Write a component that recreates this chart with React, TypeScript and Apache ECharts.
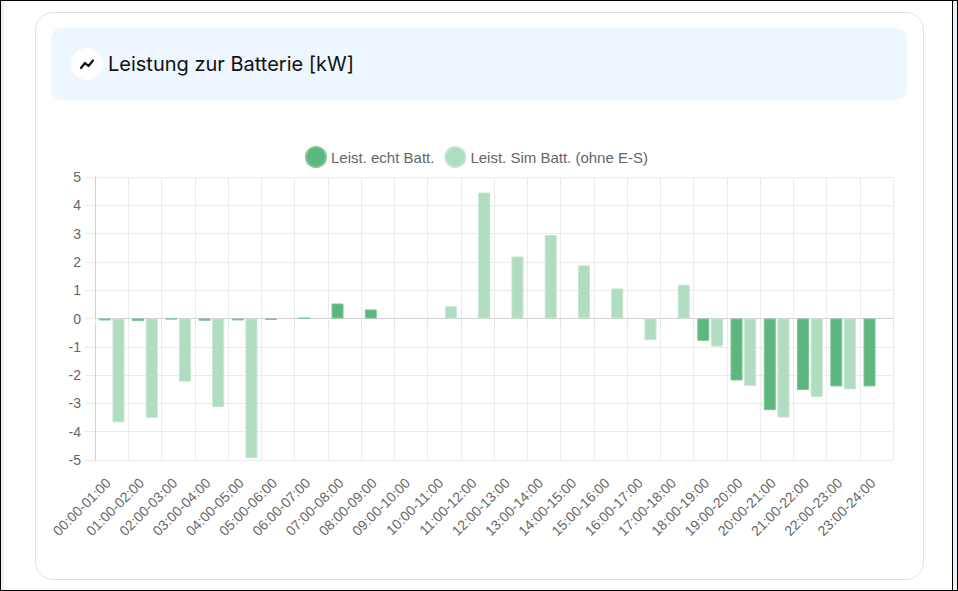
import * as echarts from "echarts";
import { useEffect, useRef } from "react";

const categories = [
    "00:00-01:00", "01:00-02:00", "02:00-03:00", "03:00-04:00", "04:00-05:00", "05:00-06:00",
    "06:00-07:00", "07:00-08:00", "08:00-09:00", "09:00-10:00", "10:00-11:00", "11:00-12:00",
    "12:00-13:00", "13:00-14:00", "14:00-15:00", "15:00-16:00", "16:00-17:00", "17:00-18:00",
    "18:00-19:00", "19:00-20:00", "20:00-21:00", "21:00-22:00", "22:00-23:00", "23:00-24:00",
];

const echtBatt = [
    -0.07, -0.09, -0.03, -0.08, -0.07, -0.05, 0.02, 0.53, 0.32, 0, 0, 0,
    0, 0, 0, 0, 0, 0, -0.79, -2.19, -3.24, -2.53, -2.4, -2.4,
];

const simBatt = [
    -3.67, -3.51, -2.23, -3.13, -4.93, 0, 0, 0, 0, 0, 0.43, 4.45,
    2.19, 2.95, 1.88, 1.06, -0.76, 1.19, -0.99, -2.38, -3.5, -2.77, -2.5, 0,
];

const seriesNames = ["Leist. echt Batt.", "Leist. Sim Batt. (ohne E-S)"];

const labelFont = '"Liberation Sans", Arial, sans-serif';

// zero values are not drawn at all (no outline line on the axis)
const noZero = (values: number[]) => values.map((v) => (v === 0 ? null : v));

const BatteryChart: React.FC = () => {
    const node = useRef<HTMLDivElement>(null);

    useEffect(() => {
        const chart = echarts.init(node.current, null, { renderer: "svg" });
        const option: echarts.EChartsOption = {
            animation: false,
            legend: {
                top: 11,
                left: 268,
                icon: "circle",
                itemWidth: 20,
                itemHeight: 20,
                itemGap: 10,
                textStyle: { fontSize: 15, color: "#666", fontFamily: labelFont },
                data: seriesNames,
            },
            grid: { left: 63, right: 15, top: 47, height: 283, outerBoundsMode: "none" } as any,
            xAxis: {
                type: "category",
                data: categories,
                axisLine: { lineStyle: { color: "#d0d0d0" } },
                axisTick: { show: true, length: 7, lineStyle: { color: "#e6e6e6" } },
                splitLine: { show: true, lineStyle: { color: "#ebebeb" } },
                axisLabel: {
                    interval: 0,
                    rotate: 45,
                    fontSize: 14,
                    color: "#666",
                    fontFamily: labelFont,
                    margin: 17,
                    padding: [0, 5, 0, 0],
                },
            },
            yAxis: {
                type: "value",
                min: -5,
                max: 5,
                interval: 1,
                axisLine: { show: true, lineStyle: { color: "#d0d0d0" } },
                axisTick: { show: true, length: 10, lineStyle: { color: "#ebebeb" } },
                splitLine: { lineStyle: { color: "#ebebeb" } },
                axisLabel: { fontSize: 14, color: "#666", fontFamily: labelFont, margin: 14 },
            },
            series: [
                {
                    name: seriesNames[0],
                    type: "bar",
                    data: noZero(echtBatt),
                    barWidth: 12,
                    barGap: "14%",
                    itemStyle: { color: "#5cb67e", borderColor: "#7cc597", borderWidth: 1 },
                },
                {
                    name: seriesNames[1],
                    type: "bar",
                    data: noZero(simBatt),
                    barWidth: 12,
                    barGap: "14%",
                    itemStyle: { color: "#b0dcc1", borderColor: "#c4e5d1", borderWidth: 1 },
                },
            ],
        };
        chart.setOption(option);
        return () => {
            chart.dispose();
        };
    }, []);

    return (
        <div
            ref={node}
            style={{ position: "absolute", left: 31, top: 129, width: 876, height: 440 }}
        ></div>
    );
};

const App: React.FC = () => {
    return (
        <div
            style={{
                position: "fixed",
                left: 0,
                top: 0,
                width: 958,
                height: 591,
                boxSizing: "border-box",
                border: "1px solid #000",
                background: "#fff",
                fontFamily: "Inter, sans-serif",
                overflow: "hidden",
            }}
        >
            {/* thin strips at the window edges */}
            <div style={{ position: "absolute", left: 0, top: 0, bottom: 0, width: 3, background: "#e9f1f9" }}></div>
            <div style={{ position: "absolute", left: 951, top: 0, bottom: 0, width: 1, background: "#000" }}></div>
            <div style={{ position: "absolute", left: 952, top: 0, bottom: 0, width: 4, background: "#e9f1f9" }}></div>

            {/* card */}
            <div
                style={{
                    position: "absolute",
                    left: 34,
                    top: 11,
                    width: 887,
                    height: 566,
                    border: "1px solid #e2e2e2",
                    borderRadius: 18,
                }}
            ></div>

            {/* header */}
            <div
                style={{
                    position: "absolute",
                    left: 50,
                    top: 27,
                    width: 856,
                    height: 72,
                    background: "#eef6ff",
                    borderRadius: 10,
                }}
            >
                <div
                    style={{
                        position: "absolute",
                        left: 20,
                        top: 20,
                        width: 32,
                        height: 32,
                        borderRadius: "50%",
                        background: "#fff",
                    }}
                >
                    <svg width="32" height="32" viewBox="0 0 32 32">
                        <polyline
                            points="10,20 14,15 17.5,18 22,12.5"
                            fill="none"
                            stroke="#111"
                            strokeWidth="2.2"
                            strokeLinecap="round"
                            strokeLinejoin="round"
                        />
                    </svg>
                </div>
                <div
                    style={{
                        position: "absolute",
                        left: 57,
                        top: 0,
                        height: 72,
                        lineHeight: "72px",
                        fontSize: 20,
                        color: "#111",
                    }}
                >
                    Leistung zur Batterie [kW]
                </div>
            </div>

            <BatteryChart />
        </div>
    );
};

export default App;
